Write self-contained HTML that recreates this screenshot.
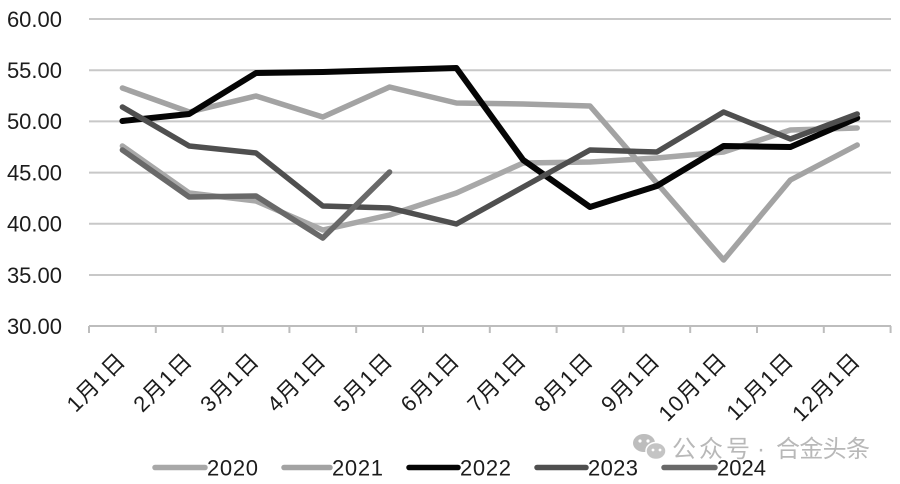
<!DOCTYPE html>
<html>
<head>
<meta charset="utf-8">
<style>
  html, body { margin: 0; padding: 0; background: #ffffff; }
  svg { display: block; }
</style>
</head>
<body>
<svg width="900" height="484" viewBox="0 0 900 484" xmlns="http://www.w3.org/2000/svg">
  <rect x="0" y="0" width="900" height="484" fill="#ffffff"/>
  <!-- gridlines -->
  <g stroke="#c8c8c8" stroke-width="2">
    <line x1="89" y1="19" x2="891" y2="19"/>
    <line x1="89" y1="70.2" x2="891" y2="70.2"/>
    <line x1="89" y1="121.4" x2="891" y2="121.4"/>
    <line x1="89" y1="172.6" x2="891" y2="172.6"/>
    <line x1="89" y1="223.8" x2="891" y2="223.8"/>
    <line x1="89" y1="275" x2="891" y2="275"/>
  </g>
  <!-- x axis -->
  <g stroke="#bdbdbd" stroke-width="2">
    <line x1="89" y1="326" x2="891" y2="326"/>
    <line x1="89" y1="326" x2="89" y2="333"/>
    <line x1="155.8" y1="326" x2="155.8" y2="333"/>
    <line x1="222.6" y1="326" x2="222.6" y2="333"/>
    <line x1="289.4" y1="326" x2="289.4" y2="333"/>
    <line x1="356.2" y1="326" x2="356.2" y2="333"/>
    <line x1="423" y1="326" x2="423" y2="333"/>
    <line x1="489.8" y1="326" x2="489.8" y2="333"/>
    <line x1="556.6" y1="326" x2="556.6" y2="333"/>
    <line x1="623.4" y1="326" x2="623.4" y2="333"/>
    <line x1="690.2" y1="326" x2="690.2" y2="333"/>
    <line x1="757" y1="326" x2="757" y2="333"/>
    <line x1="823.8" y1="326" x2="823.8" y2="333"/>
    <line x1="890.6" y1="326" x2="890.6" y2="333"/>
  </g>
  <!-- y labels -->
  <g font-family="'Liberation Sans', sans-serif" font-size="22" fill="#1c1c1c" text-anchor="end">
    <text x="62" y="27">60.00</text>
    <text x="62" y="78">55.00</text>
    <text x="62" y="129">50.00</text>
    <text x="62" y="180.5">45.00</text>
    <text x="62" y="231.5">40.00</text>
    <text x="62" y="283">35.00</text>
    <text x="62" y="334">30.00</text>
  </g>
  <!-- x labels -->
  <g font-family="'Liberation Sans', 'Noto Sans CJK SC', sans-serif" font-size="22" letter-spacing="1" fill="#1c1c1c" text-anchor="end">
    <text transform="translate(127,362) rotate(-45)">1月1日</text>
    <text transform="translate(193.8,362) rotate(-45)">2月1日</text>
    <text transform="translate(260.6,362) rotate(-45)">3月1日</text>
    <text transform="translate(327.4,362) rotate(-45)">4月1日</text>
    <text transform="translate(394.2,362) rotate(-45)">5月1日</text>
    <text transform="translate(461,362) rotate(-45)">6月1日</text>
    <text transform="translate(527.8,362) rotate(-45)">7月1日</text>
    <text transform="translate(594.6,362) rotate(-45)">8月1日</text>
    <text transform="translate(661.4,362) rotate(-45)">9月1日</text>
    <text transform="translate(728.2,362) rotate(-45)">10月1日</text>
    <text transform="translate(795,362) rotate(-45)">11月1日</text>
    <text transform="translate(861.8,362) rotate(-45)">12月1日</text>
  </g>
  <!-- series -->
  <g fill="none" stroke-width="5.5" stroke-linejoin="round" stroke-linecap="round">
    <!-- 2020 -->
    <polyline stroke="#a8a8a8" points="122.4,146 189.2,193 256,201 322.8,230 389.6,215 456.4,193 523.2,163 590,162 656.8,158 723.6,152 790.4,130 857.2,128"/>
    <!-- 2021 -->
    <polyline stroke="#a3a3a3" points="122.4,88 189.2,112 256,96 322.8,117 389.6,87 456.4,103 523.2,104 590,106 656.8,183 723.6,260 790.4,180 857.2,145"/>
    <!-- 2022 -->
    <polyline stroke="#050505" stroke-width="6" points="122.4,121 189.2,114 256,73 322.8,72 389.6,70 456.4,68 523.2,160 590,207 656.8,186 723.6,146 790.4,147 857.2,118"/>
    <!-- 2023 -->
    <polyline stroke="#4f4f4f" points="122.4,107 189.2,146 256,153 322.8,206 389.6,208 456.4,224 523.2,187 590,150 656.8,152 723.6,112 790.4,139 857.2,114"/>
    <!-- 2024 -->
    <polyline stroke="#696969" points="122.4,150 189.2,197 256,196 322.8,238 389.6,172"/>
  </g>
  <!-- watermark -->
  <g fill="#bdbdbd">
    <ellipse cx="644" cy="443" rx="11" ry="9"/>
    <ellipse cx="656" cy="451" rx="10" ry="8.5" fill="#c4c4c4" stroke="#ffffff" stroke-width="1.5"/>
    <circle cx="640" cy="441" r="1.6" fill="#ffffff"/>
    <circle cx="648" cy="441" r="1.6" fill="#ffffff"/>
    <circle cx="653" cy="450" r="1.4" fill="#ffffff"/>
    <circle cx="660" cy="450" r="1.4" fill="#ffffff"/>
  </g>
  <g font-family="'Liberation Sans', 'Noto Sans CJK SC', sans-serif" font-size="24" fill="#b8b8b8">
    <text x="672" y="457" textLength="78">公众号</text>
    <text x="757" y="457">·</text>
    <text x="776" y="457" textLength="94">合金头条</text>
  </g>
  <!-- legend -->
  <g stroke-width="5.5" stroke-linecap="round">
    <line x1="155" y1="467.5" x2="205" y2="467.5" stroke="#a8a8a8"/>
    <line x1="284" y1="467.5" x2="330" y2="467.5" stroke="#a3a3a3"/>
    <line x1="409" y1="467.5" x2="458" y2="467.5" stroke="#050505"/>
    <line x1="537" y1="467.5" x2="586" y2="467.5" stroke="#4f4f4f"/>
    <line x1="664" y1="467.5" x2="715" y2="467.5" stroke="#696969"/>
  </g>
  <g font-family="'Liberation Sans', sans-serif" font-size="22" fill="#1c1c1c">
    <text x="207" y="475.5" textLength="51">2020</text>
    <text x="332" y="475.5" textLength="51">2021</text>
    <text x="460" y="475.5" textLength="51">2022</text>
    <text x="588" y="475.5" textLength="50">2023</text>
    <text x="717" y="475.5" textLength="49">2024</text>
  </g>
</svg>
</body>
</html>
